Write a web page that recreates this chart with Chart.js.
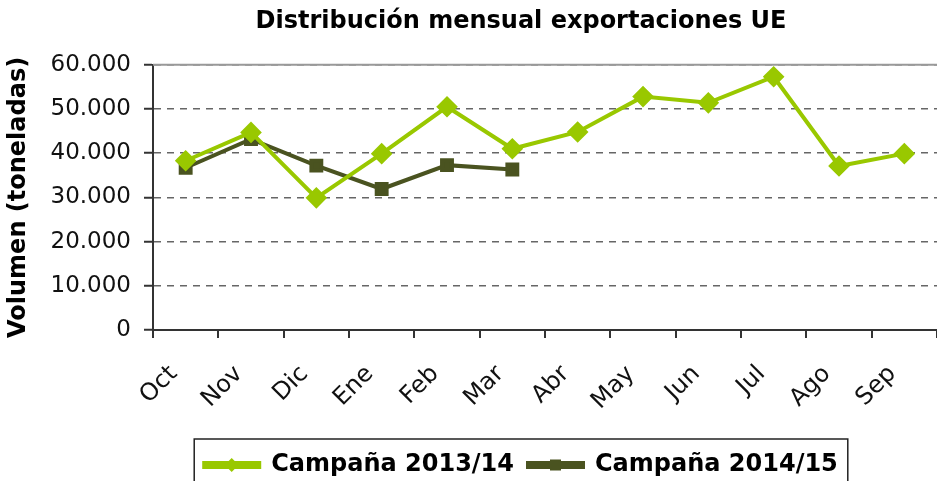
<!DOCTYPE html>
<html><head><meta charset="utf-8">
<script src="https://cdn.jsdelivr.net/npm/chart.js@4"></script>
<style>html,body{margin:0;padding:0;background:#fff;overflow:hidden}#wrap{width:937px;height:481px;position:relative}</style>
</head><body><div id="wrap"><canvas id="c"></canvas></div>
<script>
const months = ['Oct','Nov','Dic','Ene','Feb','Mar','Abr','May','Jun','Jul','Ago','Sep'];
const campana1314 = [38300,44700,29900,39900,50500,41000,44800,52800,51400,57300,37100,39900];
const campana1415 = [36700,43200,37200,31900,37300,36300];
const seriesNames = ['Campaña 2013/14','Campaña 2014/15'];
const yTickLabels = ['0','10.000','20.000','30.000','40.000','50.000','60.000'];
const chartTitle = 'Distribución mensual exportaciones UE';
const yAxisTitle = 'Volumen (toneladas)';

const GREEN = '#99c800';
const OLIVE = '#4a5320';
const FONT = "'DejaVu Sans', sans-serif";
const BLOCK_SHIFT = -24;
const LEGEND_DROP = 6;

const decor = {
  id: 'decor',
  afterLayout(chart) {
    [chart.titleBlock, chart.legend].forEach(b => {
      if (b) { b.left += BLOCK_SHIFT; b.right += BLOCK_SHIFT; }
    });
    if (chart.legend) { chart.legend.top += LEGEND_DROP; chart.legend.bottom += LEGEND_DROP; }
  },
  afterDraw(chart) {
    const ctx = chart.ctx, a = chart.chartArea;
    ctx.save();
    ctx.strokeStyle = '#999'; ctx.lineWidth = 2;
    ctx.beginPath(); ctx.moveTo(a.left, a.top); ctx.lineTo(a.right, a.top); ctx.stroke();
    const lg = chart.legend;
    if (lg && lg.legendHitBoxes && lg.legendHitBoxes.length) {
      const hb = lg.legendHitBoxes;
      const l = Math.min(...hb.map(h => h.left)) - 10;
      const r = Math.max(...hb.map(h => h.left + h.width)) + 10;
      const t = hb[0].top - 8 - LEGEND_DROP;
      ctx.strokeStyle = '#222'; ctx.lineWidth = 1.5;
      ctx.strokeRect(l, t, r - l, 70);
      const bw = lg.options.labels.boxWidth;
      hb.forEach((h, i) => {
        const cx = h.left + bw / 2, cy = h.top + h.height / 2;
        ctx.fillStyle = i === 0 ? GREEN : OLIVE;
        ctx.beginPath();
        if (i === 0) {
          ctx.moveTo(cx, cy - 7); ctx.lineTo(cx + 7, cy); ctx.lineTo(cx, cy + 7); ctx.lineTo(cx - 7, cy);
        } else {
          ctx.rect(cx - 5.5, cy - 5.5, 11, 11);
        }
        ctx.closePath(); ctx.fill();
      });
    }
    ctx.restore();
  }
};

new Chart(document.getElementById('c'), {
  type: 'line',
  data: {
    labels: months,
    datasets: [
      { label: seriesNames[0], data: campana1314, borderColor: GREEN, backgroundColor: GREEN,
        borderWidth: 4, pointStyle: 'rectRot', pointRadius: 8, pointHoverRadius: 8, tension: 0 },
      { label: seriesNames[1], data: campana1415, borderColor: OLIVE, backgroundColor: OLIVE,
        borderWidth: 4, pointStyle: 'rect', pointRadius: 7, pointHoverRadius: 7, tension: 0 }
    ]
  },
  options: {
    responsive: true, maintainAspectRatio: false, animation: false,
    layout: { autoPadding: false, padding: { left: 0, right: 0, top: 0, bottom: 0 } },
    plugins: {
      title: { display: true, text: chartTitle, fullSize: false, color: '#000',
        font: { family: FONT, size: 24, weight: 'bold' }, padding: { top: 7, bottom: 29 } },
      legend: { position: 'bottom', fullSize: false,
        labels: { boxWidth: 55, boxHeight: 4, color: '#000', padding: 14,
          font: { family: FONT, size: 24, weight: 'bold' } } },
      tooltip: { enabled: false }
    },
    scales: {
      x: {
        type: 'category', offset: true,
        grid: { offset: true, drawOnChartArea: false, tickLength: 8, tickColor: '#333', lineWidth: 2 },
        border: { color: '#333', width: 2 },
        ticks: { maxRotation: 45, minRotation: 45, padding: 22, labelOffset: -12, color: '#111',
          font: { family: FONT, size: 24 } },
        afterFit(s) { s.height = 103; s.paddingLeft = 0; s.paddingRight = 0; }
      },
      y: {
        min: 0, max: 60000,
        ticks: { stepSize: 10000, padding: 13, color: '#111', font: { family: FONT, size: 23 },
          callback: (v, i) => yTickLabels[i] },
        grid: { color: '#666', lineWidth: 1.5, tickLength: 9, tickColor: '#333', tickWidth: 2 },
        border: { color: '#333', width: 2, dash: [7, 6] },
        title: { display: true, text: yAxisTitle, color: '#000',
          font: { family: FONT, size: 24, weight: 'bold' }, padding: { top: 4, bottom: 4 } },
        afterFit(s) { s.width = 153; }
      }
    }
  },
  plugins: [decor]
});
</script></body></html>
